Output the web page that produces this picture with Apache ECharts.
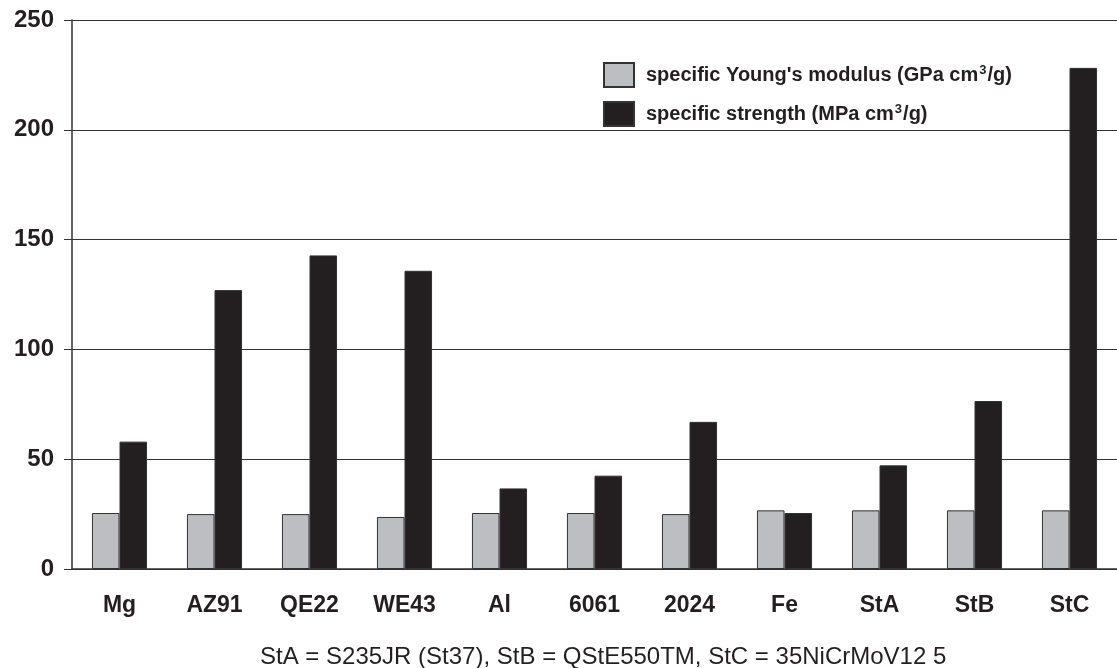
<!DOCTYPE html>
<html>
<head>
<meta charset="utf-8">
<script src="https://cdn.jsdelivr.net/npm/echarts@6/dist/echarts.min.js"></script>
<style>
  html, body { margin: 0; padding: 0; background: #fff; }
  #chart1 { width: 1117px; height: 668px; }
</style>
</head>
<body>
<div id="chart1"></div>
<script>
const materials = ['Mg', 'AZ91', 'QE22', 'WE43', 'Al', '6061', '2024', 'Fe', 'StA', 'StB', 'StC'];
const youngsModulus = [25.5, 25, 25, 23.7, 25.5, 25.5, 25, 26.7, 26.7, 26.7, 26.7];
const strength = [58, 127, 142.8, 135.8, 36.7, 42.5, 67, 25.5, 47.2, 76.5, 228.2];
const yTicks = [0, 50, 100, 150, 200, 250];
const seriesNames = ["specific Young's modulus (GPa cm³/g)", 'specific strength (MPa cm³/g)'];
const footnote = 'StA = S235JR (St37), StB = QStE550TM, StC = 35NiCrMoV12 5';

const chart = echarts.init(document.getElementById('chart1'));
const font = 'Liberation Sans, Arial, sans-serif';

const option = {
    animation: false,
    textStyle: { fontFamily: font },
    grid: { left: 72, right: 0, top: 20, bottom: 99 },
    legend: {
        left: 598,
        top: 57,
        orient: 'vertical',
        icon: 'rect',
        itemWidth: 30,
        itemHeight: 24,
        itemGap: 13,
        formatter: function (name) {
            // superscript 3 as in the original legend
            return '{t|' + name.replace('cm³', 'cm}{s|3}{t|') + '}';
        },
        textStyle: {
            color: '#231f20',
            padding: [0, 0, 0, 7],
            rich: {
                t: { fontSize: 20, fontWeight: 'bold', color: '#231f20', fontFamily: font, lineHeight: 24 },
                s: { fontSize: 13, fontWeight: 'bold', color: '#231f20', fontFamily: font, verticalAlign: 'top', lineHeight: 12, padding: [1, 1, 0, 1] }
            }
        },
        data: seriesNames
    },
    title: {
        text: footnote,
        left: 255,
        top: 640,
        textStyle: { fontSize: 24, fontWeight: 'normal', color: '#231f20', fontFamily: font }
    },
    xAxis: {
        type: 'category',
        data: materials,
        axisLine: { lineStyle: { color: '#333', width: 1.5 } },
        axisTick: { length: 8, lineStyle: { color: '#333' } },
        axisLabel: { fontSize: 23, fontWeight: 'bold', color: '#231f20', margin: 25, fontFamily: font }
    },
    yAxis: {
        type: 'value',
        min: yTicks[0],
        max: yTicks[yTicks.length - 1],
        interval: 50,
        axisLine: { show: true, lineStyle: { color: '#333', width: 1.5 } },
        axisTick: { show: true, length: 8, lineStyle: { color: '#333' } },
        splitLine: { lineStyle: { color: '#333', width: 1.2 } },
        axisLabel: { fontSize: 24, fontWeight: 'bold', color: '#231f20', margin: 18, fontFamily: font }
    },
    series: [
        {
            name: seriesNames[0],
            type: 'bar',
            data: youngsModulus,
            barGap: '0%',
            barCategoryGap: '42%',
            itemStyle: { color: '#bdbec2', borderColor: '#333', borderWidth: 1 }
        },
        {
            name: seriesNames[1],
            type: 'bar',
            data: strength,
            itemStyle: { color: '#231f20', borderColor: '#333', borderWidth: 1 }
        }
    ]
};

chart.setOption(option);
window.addEventListener('resize', function () { chart.resize(); });
</script>
</body>
</html>
